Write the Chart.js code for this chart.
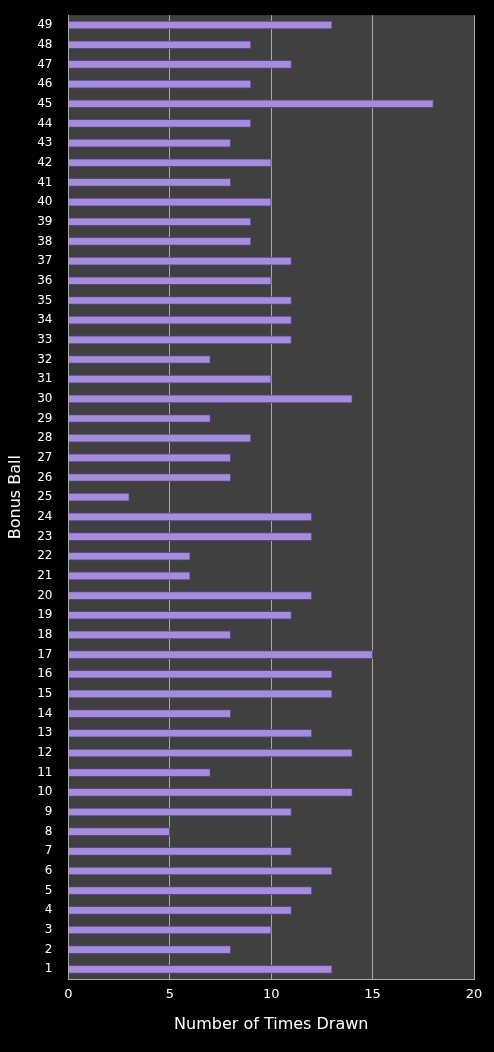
<!DOCTYPE html><html><head><style>html,body{margin:0;background:#000}#w{width:494px;height:1052px}</style>
<script src="https://cdn.jsdelivr.net/npm/chart.js@4"></script></head><body><div id="w"><canvas id="c"></canvas></div><script>
const balls=[];for(let i=1;i<=49;i++)balls.push(String(i));
const timesDrawn=[13,8,10,11,12,13,11,5,11,14,7,14,12,8,13,13,15,8,11,12,6,6,12,12,3,8,8,9,7,14,10,7,11,11,11,10,11,9,9,10,8,10,8,9,18,9,11,9,13];
const xTicks=[0,5,10,15,20];
const bg={id:'bg',beforeDraw(c){const a=c.chartArea,x=c.ctx;x.save();x.fillStyle='#000';x.fillRect(0,0,c.width,c.height);x.fillStyle='#404040';x.fillRect(a.left,a.top,a.right-a.left,a.bottom-a.top);x.restore();}};
new Chart(document.getElementById('c'),{type:'bar',
data:{labels:balls,datasets:[{data:timesDrawn,backgroundColor:'#a68ddb',borderColor:'#5a4490',borderWidth:1,barThickness:8}]},
options:{indexAxis:'y',responsive:true,maintainAspectRatio:false,animation:false,
layout:{padding:{top:15,right:20,left:2,bottom:14}},
plugins:{legend:{display:false},tooltip:{enabled:false}},
scales:{x:{min:0,max:20,afterBuildTicks(s){s.ticks=xTicks.map(v=>({value:v}));},grid:{color:'#aaa',drawTicks:false,lineWidth:1},border:{color:'#aaa'},ticks:{color:'#fff',font:{family:'DejaVu Sans',size:13},padding:8},
title:{display:true,text:'Number of Times Drawn',color:'#fff',font:{family:'DejaVu Sans',size:16},padding:{top:4}}},
y:{reverse:true,grid:{display:false},border:{color:'#aaa'},ticks:{color:'#fff',font:{family:'DejaVu Sans',size:12},autoSkip:false,padding:8},
title:{display:true,text:'Bonus Ball',color:'#fff',font:{family:'DejaVu Sans',size:16},padding:{bottom:4}}}}},plugins:[bg]});
</script></body></html>
